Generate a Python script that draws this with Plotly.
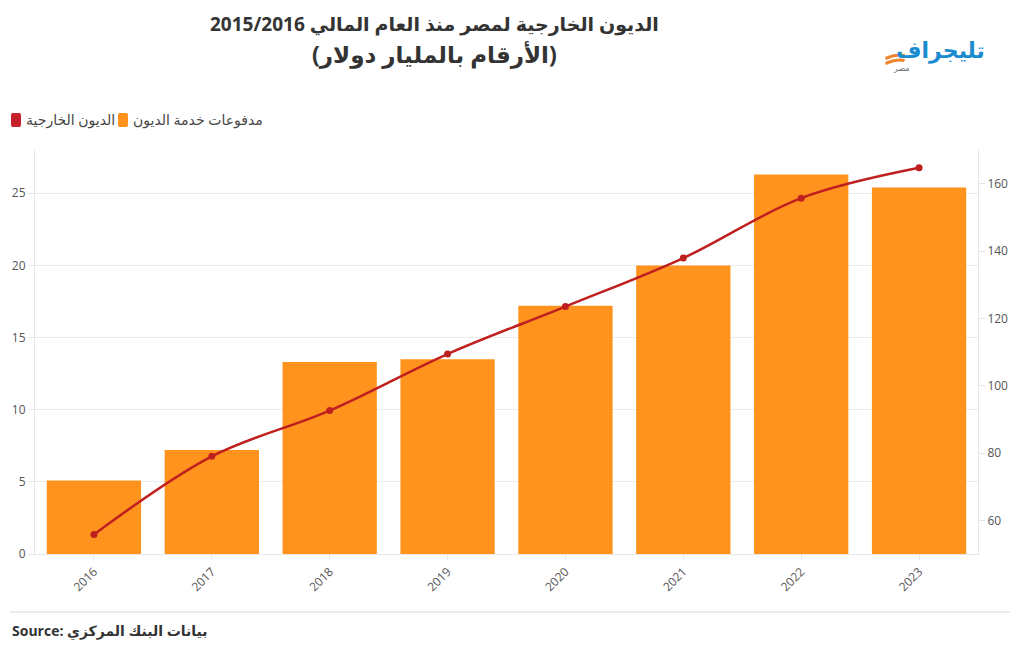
import plotly.graph_objects as go

years = ["2016", "2017", "2018", "2019", "2020", "2021", "2022", "2023"]
debt_service = [5.1, 7.2, 13.3, 13.5, 17.2, 20.0, 26.3, 25.4]
external_debt = [55.8, 79.0, 92.6, 109.4, 123.5, 137.9, 155.7, 164.7]

name_line = "الديون الخارجية"
name_bar = "مدفوعات خدمة الديون"
title1 = "الديون الخارجية لمصر منذ العام المالي 2015/2016"
title2 = "(الأرقام بالمليار دولار)"
source_text = "Source: بيانات البنك المركزي"
logo_main = "تليجراف"
logo_sub = "مصر"

BAR = "#FF931E"
LINE = "#BF1F1F"
LEG_RED = "#C8202A"
FONT = "Open Sans, Noto Sans, DejaVu Sans, sans-serif"
W, H = 1020, 650
L, R, T, B = 35, 42, 150, 96
pw, ph = W - L - R, H - T - B


def px(x):
    return (x - L) / pw


def py(y):
    return (H - B - y) / ph


fig = go.Figure()
fig.add_trace(go.Bar(x=years, y=debt_service, marker=dict(color=BAR, line=dict(width=0)),
                     name=name_bar, showlegend=False, yaxis="y"))
fig.add_trace(go.Scatter(x=years, y=external_debt, mode="lines+markers",
                         line=dict(color=LINE, width=2.5, shape="spline"),
                         marker=dict(color=LINE, size=7),
                         name=name_line, showlegend=False, yaxis="y2"))

axis_grey = "#e6e6e6"
fig.update_layout(
    width=W, height=H,
    margin=dict(l=L, r=R, t=T, b=B),
    paper_bgcolor="white", plot_bgcolor="white",
    font=dict(family=FONT, color="#555", size=12),
    bargap=0.2,
    showlegend=False,
    xaxis=dict(type="category", range=[-0.5, 7.5], tickangle=-45,
               showline=True, linecolor=axis_grey, ticks="outside", ticklen=5,
               tickcolor=axis_grey, showgrid=False, tickfont=dict(size=12, color="#555")),
    yaxis=dict(range=[0, 28], dtick=5, showgrid=True, gridcolor="#ececec",
               showline=True, linecolor=axis_grey, ticks="outside", ticklen=6,
               tickcolor=axis_grey, zeroline=False, tickfont=dict(size=12, color="#555")),
    yaxis2=dict(range=[50, 170], tickvals=[60, 80, 100, 120, 140, 160], overlaying="y",
                side="right", showgrid=False, showline=True, linecolor=axis_grey,
                ticks="outside", ticklen=6, tickcolor=axis_grey, zeroline=False,
                tickfont=dict(size=12, color="#555")),
)


def rounded_swatch(cx, cy, color):
    w, h, r = 5, 7, 2
    path = (f"M {-w+r},{-h} L {w-r},{-h} Q {w},{-h} {w},{-h+r} L {w},{h-r} Q {w},{h} {w-r},{h} "
            f"L {-w+r},{h} Q {-w},{h} {-w},{h-r} L {-w},{-h+r} Q {-w},{-h} {-w+r},{-h} Z")
    fig.add_shape(type="path", xref="paper", yref="paper", xsizemode="pixel", ysizemode="pixel",
                  xanchor=px(cx), yanchor=py(cy), path=path, fillcolor=color,
                  line=dict(width=0))


# manual legend
rounded_swatch(16, 120, LEG_RED)
fig.add_annotation(text=name_line, xref="paper", yref="paper", x=px(24), y=py(120),
                   xanchor="left", yanchor="middle", showarrow=False,
                   font=dict(size=14, color="#444", family=FONT))
rounded_swatch(123, 120, BAR)
fig.add_annotation(text=name_bar, xref="paper", yref="paper", x=px(131), y=py(120),
                   xanchor="left", yanchor="middle", showarrow=False,
                   font=dict(size=14, color="#444", family=FONT))

# titles
fig.add_annotation(text="<b>" + title1 + "</b>", xref="paper", yref="paper",
                   x=px(434), y=py(24), xanchor="center", yanchor="middle",
                   showarrow=False, font=dict(size=19, color="#333", family=FONT))
fig.add_annotation(text="<b>" + title2 + "</b>", xref="paper", yref="paper",
                   x=px(434), y=py(54), xanchor="center", yanchor="middle",
                   showarrow=False, font=dict(size=23, color="#333", family=FONT))

# logo
fig.add_annotation(text="<b>" + logo_main + "</b>", xref="paper", yref="paper",
                   x=px(987), y=py(49), xanchor="right", yanchor="middle",
                   showarrow=False, font=dict(size=22, color="#1B8BCF", family=FONT))
fig.add_annotation(text=logo_sub, xref="paper", yref="paper",
                   x=px(912), y=py(67), xanchor="right", yanchor="middle",
                   showarrow=False, font=dict(size=8, color="#666", family=FONT))
for dy in (0, 5):
    fig.add_shape(type="path", xref="paper", yref="paper", xsizemode="pixel", ysizemode="pixel",
                  xanchor=px(895), yanchor=py(56 + dy),
                  path="M -10,-1 Q 0,4 10,2 L 9,-1 Q 0,1 -9,-4 Z",
                  fillcolor="#F0832A", line=dict(width=0))

# footer
fig.add_shape(type="line", xref="paper", yref="paper", x0=px(10), x1=px(1010),
              y0=py(612), y1=py(612), line=dict(color="#d5d5d5", width=1))
fig.add_annotation(text="<b>" + source_text + "</b>", xref="paper", yref="paper",
                   x=px(10), y=py(631), xanchor="left", yanchor="middle",
                   showarrow=False, font=dict(size=14, color="#333", family=FONT))

fig.write_html("out.html", config={"displayModeBar": False},
               post_script="document.body.style.margin='0';")
